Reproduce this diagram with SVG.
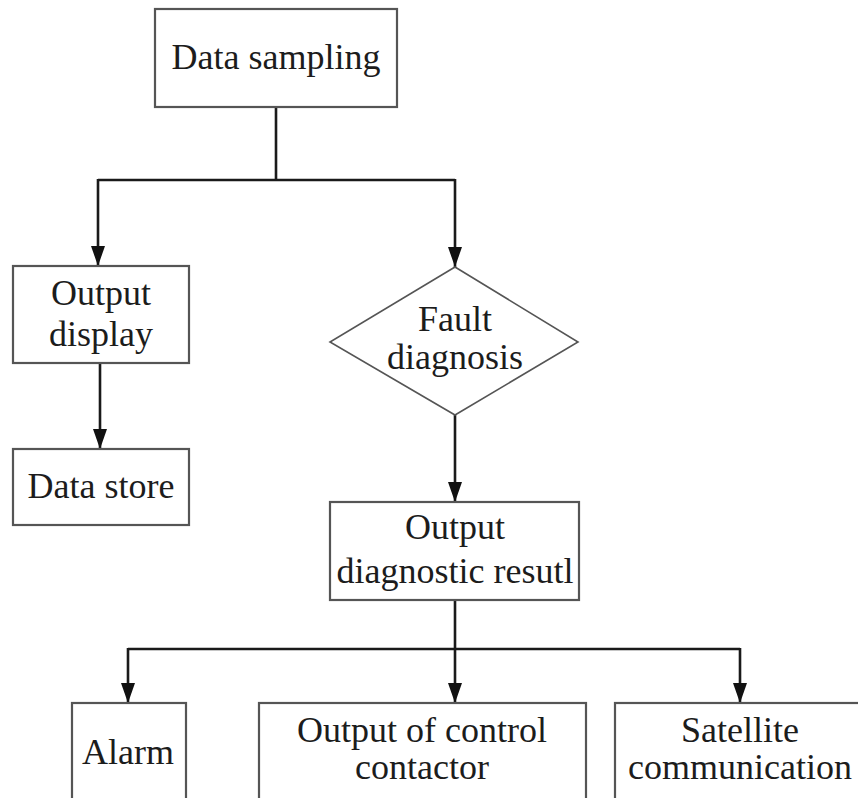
<svg xmlns="http://www.w3.org/2000/svg" width="858" height="798" viewBox="0 0 858 798">
<defs>
<marker id="arr" viewBox="0 0 20 14" refX="20" refY="7" markerWidth="20" markerHeight="14" markerUnits="userSpaceOnUse" orient="auto">
<path d="M0,0 L20,7 L0,14 Z" fill="#111"/>
</marker>
<style>
.box{fill:#fff;stroke:#555;stroke-width:2.2}
.t{font-family:"Liberation Serif","Times New Roman",serif;font-size:36px;fill:#1c1c1c;text-anchor:middle}
.c{fill:none;stroke:#1a1a1a;stroke-width:2.6}
</style>
</defs>
<rect width="858" height="798" fill="#fff"/>
<g id="connectors">
<path class="c" d="M276,107 V180"/>
<path class="c" d="M98,180 H455"/>
<line class="c" x1="98" y1="179" x2="98" y2="266" marker-end="url(#arr)"/>
<line class="c" x1="455" y1="179" x2="455" y2="267" marker-end="url(#arr)"/>
<line class="c" x1="100" y1="363" x2="100" y2="449" marker-end="url(#arr)"/>
<line class="c" x1="455" y1="415" x2="455" y2="502" marker-end="url(#arr)"/>
<path class="c" d="M455,600 V649"/>
<path class="c" d="M128,649 H740"/>
<line class="c" x1="128" y1="648" x2="128" y2="703" marker-end="url(#arr)"/>
<line class="c" x1="455" y1="648" x2="455" y2="703" marker-end="url(#arr)"/>
<line class="c" x1="740" y1="648" x2="740" y2="703" marker-end="url(#arr)"/>
</g>
<g id="data-sampling">
<rect class="box" x="155" y="9" width="242" height="98"/>
<text class="t" x="276" y="69">Data sampling</text>
</g>
<g id="output-display">
<rect class="box" x="13" y="266" width="176" height="97"/>
<text class="t" x="101" y="305">Output</text>
<text class="t" x="101" y="346">display</text>
</g>
<g id="data-store">
<rect class="box" x="13" y="449" width="176" height="76"/>
<text class="t" x="101" y="498">Data store</text>
</g>
<g id="fault-diagnosis">
<polygon class="box" points="455,267 578,342 455,415 330,342" style="stroke-width:1.6"/>
<text class="t" x="455" y="331">Fault</text>
<text class="t" x="455" y="369">diagnosis</text>
</g>
<g id="output-diagnostic">
<rect class="box" x="330" y="502" width="249" height="98"/>
<text class="t" x="455" y="539">Output</text>
<text class="t" x="455" y="583">diagnostic resutl</text>
</g>
<g id="alarm">
<rect class="box" x="72" y="703" width="114" height="110"/>
<text class="t" x="128" y="764">Alarm</text>
</g>
<g id="control-contactor">
<rect class="box" x="259" y="703" width="327" height="110"/>
<text class="t" x="422" y="742">Output of control</text>
<text class="t" x="422" y="779">contactor</text>
</g>
<g id="satellite">
<rect class="box" x="615" y="703" width="252" height="110"/>
<text class="t" x="740" y="742">Satellite</text>
<text class="t" x="740" y="779">communication</text>
</g>
</svg>
